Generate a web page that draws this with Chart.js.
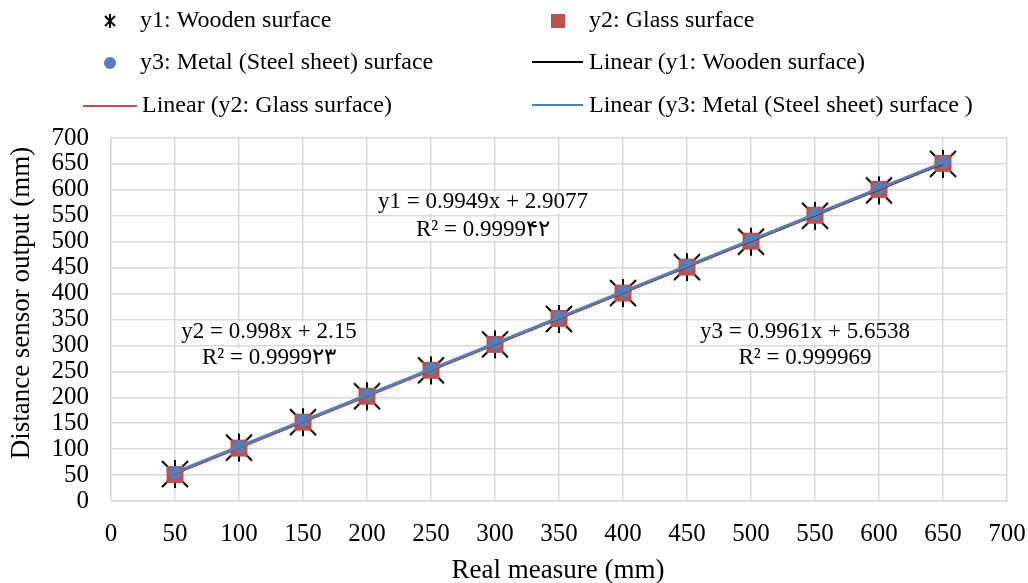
<!DOCTYPE html>
<html>
<head>
<meta charset="utf-8">
<script src="https://cdn.jsdelivr.net/npm/chart.js@4.4.1/dist/chart.umd.min.js"></script>
<style>
  html, body { margin: 0; padding: 0; background: #fff; }
  #wrap { width: 1028px; height: 583px; position: relative; }
</style>
</head>
<body>
<div id="wrap"><canvas id="chart" width="1028" height="583"></canvas></div>
<script>
// Real measure (mm)
const realMeasure = [50, 100, 150, 200, 250, 300, 350, 400, 450, 500, 550, 600, 650];
// Sensor readings per surface
const woodValues = [52, 103, 152, 202, 252, 302, 351, 401, 451, 500, 550, 599, 650];
const glassValues = [51, 102, 152, 202, 252, 302, 352, 401, 451, 501, 551, 601, 651];
const metalValues = [55, 105, 155, 205, 255, 304, 354, 404, 454, 503, 553, 603, 653];
// Trendline coefficients as printed on the chart
const slopes = [0.9949, 0.998, 0.9961];
const intercepts = [2.9077, 2.15, 5.6538];
const seriesNames = ['y1: Wooden surface', 'y2: Glass surface', 'y3: Metal (Steel sheet) surface'];
const trendNames = ['Linear (y1: Wooden surface)', 'Linear (y2: Glass surface)', 'Linear (y3: Metal (Steel sheet) surface )'];
const equationLines = [
    ['y1 = 0.9949x + 2.9077', 'R² = 0.9999۴۲'],
    ['y2 = 0.998x + 2.15', 'R² = 0.9999۲۳'],
    ['y3 = 0.9961x + 5.6538', 'R² = 0.999969']
];
const yTitle = 'Distance sensor output (mm)';
const xTitle = 'Real measure (mm)';

const black = '#000000';
const red = '#C0504D';
const blue = '#4F81BD';
const serif = '"Liberation Serif", "Times New Roman", serif';

function toPoints(xs, ys) {
    return xs.map((x, i) => ({ x: x, y: ys[i] }));
}

function trendPoints(k) {
    const x0 = realMeasure[0];
    const x1 = realMeasure[realMeasure.length - 1];
    return [
        { x: x0, y: slopes[k] * x0 + intercepts[k] },
        { x: x1, y: slopes[k] * x1 + intercepts[k] }
    ];
}

// star marker like Excel's (X plus vertical bar)
function makeStar(half, vHalf, lw) {
    const c = document.createElement('canvas');
    const s = Math.ceil(vHalf * 2 + 2);
    c.width = s; c.height = s;
    const g = c.getContext('2d');
    const m = s / 2;
    g.strokeStyle = black;
    g.lineWidth = lw;
    g.beginPath();
    g.moveTo(m - half, m - half); g.lineTo(m + half, m + half);
    g.moveTo(m + half, m - half); g.lineTo(m - half, m + half);
    g.moveTo(m, m - vHalf); g.lineTo(m, m + vHalf);
    g.stroke();
    return c;
}
const starBig = makeStar(13, 14, 2);

const legendPlugin = {
    id: 'legendAndEquations',
    afterDraw(chart) {
        const ctx = chart.ctx;
        ctx.save();
        ctx.font = '24px ' + serif;
        ctx.fillStyle = '#000';
        ctx.textBaseline = 'middle';
        ctx.textAlign = 'left';

        // row 1
        const smallStar = makeStar(5, 7, 2);
        ctx.drawImage(smallStar, 110 - smallStar.width / 2, 21 - smallStar.height / 2);
        ctx.fillText(seriesNames[0], 140, 21);
        ctx.fillStyle = red;
        ctx.fillRect(551, 14, 14, 14);
        ctx.fillStyle = '#000';
        ctx.fillText(seriesNames[1], 589, 21);

        // row 2
        ctx.fillStyle = blue;
        ctx.beginPath();
        ctx.arc(110, 63, 6, 0, Math.PI * 2);
        ctx.fill();
        ctx.fillStyle = '#000';
        ctx.fillText(seriesNames[2], 140, 63);
        ctx.strokeStyle = black;
        ctx.lineWidth = 2;
        ctx.beginPath(); ctx.moveTo(532, 62); ctx.lineTo(583, 62); ctx.stroke();
        ctx.fillText(trendNames[0], 589, 63);

        // row 3
        ctx.strokeStyle = red;
        ctx.beginPath(); ctx.moveTo(83, 106); ctx.lineTo(137, 106); ctx.stroke();
        ctx.fillText(trendNames[1], 142, 106);
        ctx.strokeStyle = blue;
        ctx.beginPath(); ctx.moveTo(532, 105); ctx.lineTo(583, 105); ctx.stroke();
        ctx.fillText(trendNames[2], 589, 106);

        // trendline equations
        const eqPos = [[483, 202, 230], [269, 332, 358], [805, 332, 358]];
        ctx.textAlign = 'center';
        ctx.font = '23px ' + serif;
        equationLines.forEach((lines, k) => {
            const [cx, y1, y2] = eqPos[k];
            [y1, y2].forEach((yy, j) => {
                const w = ctx.measureText(lines[j]).width;
                ctx.fillStyle = '#fff';
                ctx.fillRect(cx - w / 2 - 1, yy - 10, w + 2, 21);
                ctx.fillStyle = '#000';
                ctx.fillText(lines[j], cx, yy);
            });
        });

        // axis titles
        ctx.font = '27px ' + serif;
        ctx.fillText(xTitle, 558, 571);
        ctx.translate(22, 303);
        ctx.rotate(-Math.PI / 2);
        ctx.fillText(yTitle, 0, 0);
        ctx.restore();
    }
};

new Chart(document.getElementById('chart'), {
    type: 'scatter',
    data: {
        datasets: [
            {
                label: seriesNames[0],
                data: toPoints(realMeasure, woodValues),
                pointStyle: starBig,
                pointRadius: 14,
                showLine: false,
                order: 6
            },
            {
                label: seriesNames[1],
                data: toPoints(realMeasure, glassValues),
                pointStyle: 'rect',
                pointRadius: 12,
                backgroundColor: red,
                borderColor: red,
                borderWidth: 0,
                showLine: false,
                order: 5
            },
            {
                label: seriesNames[2],
                data: toPoints(realMeasure, metalValues),
                pointStyle: 'circle',
                pointRadius: 6.5,
                backgroundColor: blue,
                borderColor: blue,
                borderWidth: 0,
                showLine: false,
                order: 4
            },
            {
                label: trendNames[0],
                data: trendPoints(0),
                showLine: true,
                borderColor: black,
                borderWidth: 1.5,
                pointRadius: 0,
                order: 3
            },
            {
                label: trendNames[1],
                data: trendPoints(1),
                showLine: true,
                borderColor: red,
                borderWidth: 1.8,
                pointRadius: 0,
                order: 2
            },
            {
                label: trendNames[2],
                data: trendPoints(2),
                showLine: true,
                borderColor: blue,
                borderWidth: 2.5,
                pointRadius: 0,
                order: 1
            }
        ]
    },
    options: {
        responsive: false,
        animation: false,
        layout: {
            padding: { top: 138, right: 21, left: 0, bottom: 0 }
        },
        plugins: {
            legend: { display: false },
            tooltip: { enabled: false }
        },
        scales: {
            x: {
                type: 'linear',
                min: 0,
                max: 700,
                afterFit: s => { s.height = 82; s.paddingLeft = 0; s.paddingRight = 0; },
                grid: { color: '#d9d9d9', lineWidth: 1.5, drawTicks: false },
                border: { color: '#d9d9d9', width: 1.5 },
                ticks: {
                    stepSize: 50,
                    autoSkip: false,
                    maxRotation: 0,
                    padding: 18,
                    color: '#000',
                    font: { family: serif, size: 25 }
                }
            },
            y: {
                type: 'linear',
                min: 0,
                max: 700,
                afterFit: s => { s.width = 111; s.paddingTop = 0; s.paddingBottom = 0; },
                grid: { color: '#d9d9d9', lineWidth: 1.5, drawTicks: false },
                border: { color: '#d9d9d9', width: 1.5 },
                ticks: {
                    stepSize: 50,
                    autoSkip: false,
                    padding: 22,
                    color: '#000',
                    font: { family: serif, size: 25 }
                }
            }
        }
    },
    plugins: [legendPlugin]
});
</script>
</body>
</html>
